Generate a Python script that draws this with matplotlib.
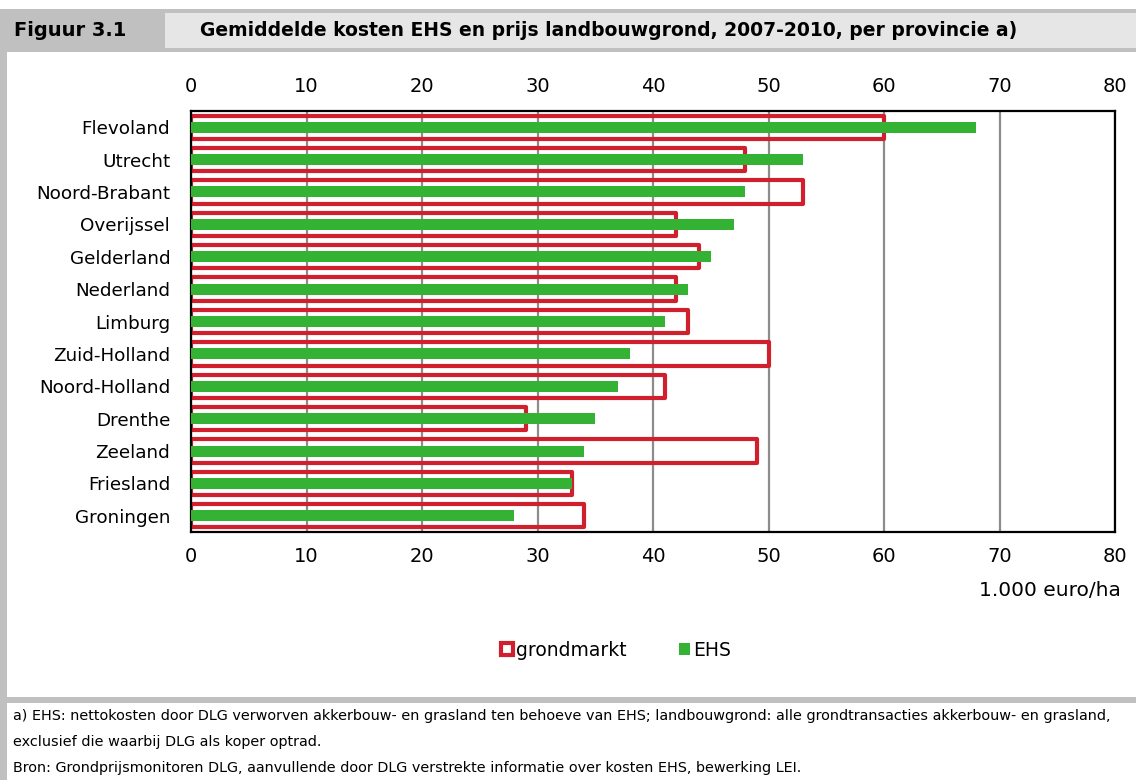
import matplotlib
matplotlib.use("Agg")
import matplotlib.pyplot as plt
from matplotlib.patches import Rectangle

provinces = ["Flevoland", "Utrecht", "Noord-Brabant", "Overijssel", "Gelderland",
             "Nederland", "Limburg", "Zuid-Holland", "Noord-Holland", "Drenthe",
             "Zeeland", "Friesland", "Groningen"]
grondmarkt = [60, 48, 53, 42, 44, 42, 43, 50, 41, 29, 49, 33, 34]
ehs = [68, 53, 48, 47, 45, 43, 41, 38, 37, 35, 34, 33, 28]
xticks = [0, 10, 20, 30, 40, 50, 60, 70, 80]

title_fig = "Figuur 3.1"
title_text = "Gemiddelde kosten EHS en prijs landbouwgrond, 2007-2010, per provincie a)"
unit_text = "1.000 euro/ha"
note_lines = [
    "a) EHS: nettokosten door DLG verworven akkerbouw- en grasland ten behoeve van EHS; landbouwgrond: alle grondtransacties akkerbouw- en grasland,",
    "exclusief die waarbij DLG als koper optrad.",
    "Bron: Grondprijsmonitoren DLG, aanvullende door DLG verstrekte informatie over kosten EHS, bewerking LEI.",
]

plt.rcParams["font.family"] = ["DejaVu Sans"]

W, H = 1136, 780
fig = plt.figure(figsize=(W / 100, H / 100), dpi=100)
fig.patch.set_facecolor("white")

def fx(x):
    return x / W

def fy(y):
    return 1 - y / H

def rect(x0, y0, x1, y1, color):
    fig.patches.append(Rectangle((fx(x0), fy(y1)), fx(x1 - x0), (y1 - y0) / H,
                                 transform=fig.transFigure, facecolor=color,
                                 edgecolor="none", zorder=0))

border = "#c0c0c0"
# header band
rect(0, 9, W, 52, border)
rect(165, 13, W, 48, "#e6e6e6")
# left border and separator
rect(0, 52, 7, H, border)
rect(0, 697, W, 703, border)

fig.text(fx(14), fy(31), title_fig, fontsize=14, fontweight="bold", va="center", ha="left")
fig.text(fx(200), fy(31), title_text, fontsize=13.5, fontweight="bold", va="center", ha="left")

# axes
left, right, top, bottom = 191, 1115, 111, 532
ax = fig.add_axes([fx(left), fy(bottom), fx(right - left), (bottom - top) / H])

red = "#d0202e"
green = "#34b233"
ypos = list(range(len(provinces)))

rb = ax.barh(ypos, grondmarkt, height=0.72, fill=False, edgecolor=red,
             linewidth=3.0, joinstyle="round", zorder=2, label="grondmarkt")
gb = ax.barh(ypos, ehs, height=0.34, color=green, zorder=3, label="EHS")

ax.set_xlim(0, 80)
ax.set_ylim(len(provinces) - 0.5, -0.5)
ax.set_xticks(xticks)
ax.set_xticklabels([str(t) for t in xticks])
ax.set_yticks(ypos)
ax.set_yticklabels(provinces)
ax.tick_params(axis="x", top=True, labeltop=True, bottom=True, labelbottom=True,
               length=0, labelsize=14, pad=11)
ax.tick_params(axis="y", length=0, labelsize=13.2, pad=15)
ax.grid(axis="x", color="#8c8c8c", linewidth=1.6)
ax.grid(axis="y", visible=False)
ax.set_axisbelow(True)
for s in ax.spines.values():
    s.set_color("black")
    s.set_linewidth(1.6)

fig.text(fx(1121), fy(590), unit_text, fontsize=14.5, ha="right", va="center")

leg = fig.legend(handles=[rb, gb], labels=["grondmarkt", "EHS"],
                 loc="center", bbox_to_anchor=(fx(616), fy(650)), ncol=2,
                 frameon=False, fontsize=13.5, handlelength=0.6, handleheight=0.6,
                 handletextpad=0.15, columnspacing=2.8)

for i, line in enumerate(note_lines):
    fig.text(fx(13), fy(716 + i * 26), line, fontsize=10.4, ha="left", va="center")

fig.savefig("out.png", dpi=100)
